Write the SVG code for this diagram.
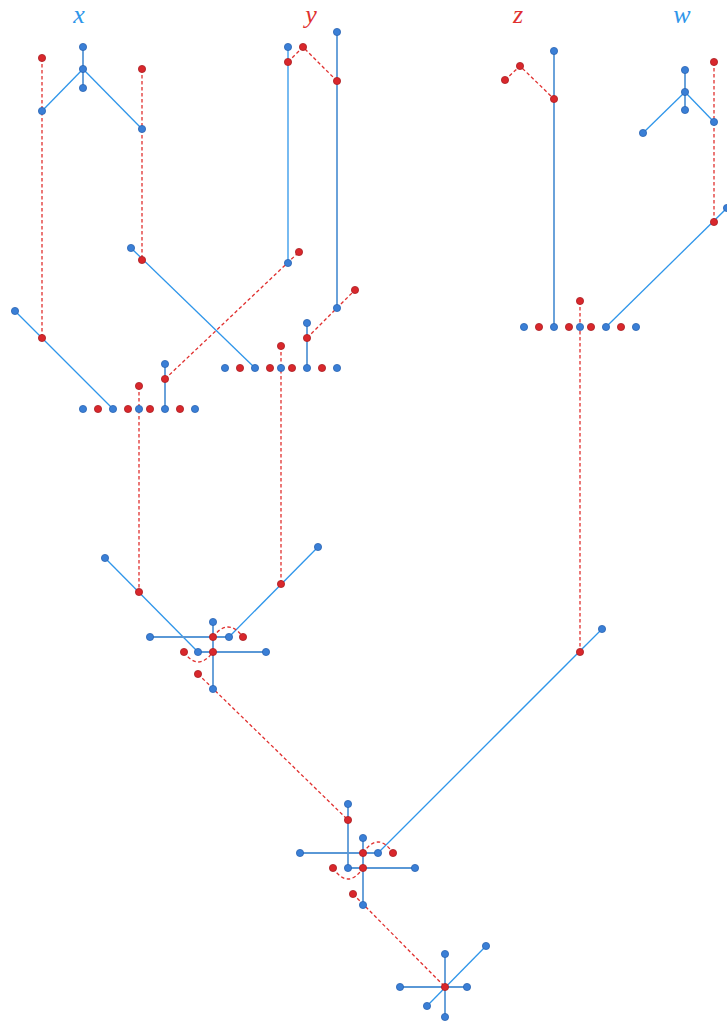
<svg xmlns="http://www.w3.org/2000/svg" width="727" height="1024" viewBox="0 0 727 1024">
<style>
.lb{font-family:"Liberation Serif","DejaVu Serif",serif;font-style:italic;font-size:26px;text-anchor:middle}
.lt{stroke:#2f96ea;stroke-width:1.3;fill:none}
.st{stroke:#5a98d6;stroke-width:1.8;fill:none}
.rd{stroke:#e0302f;stroke-width:1.3;stroke-dasharray:3.5,2.5;fill:none}
.b{fill:#3a7fd6;stroke:#2a63b3;stroke-width:0.8}
.r{fill:#d9272c;stroke:#aa1e22;stroke-width:0.8}
</style>
<rect width="727" height="1024" fill="#ffffff"/>
<g id="labels">
<text class="lb" x="79" y="23" fill="#2f96ea">x</text>
<text class="lb" x="311" y="23" fill="#e0302f">y</text>
<text class="lb" x="518" y="23" fill="#e0302f">z</text>
<text class="lb" x="682" y="23" fill="#2f96ea">w</text>
</g>
<g id="connectors">
<line class="st" x1="83" y1="47" x2="83" y2="88"/>
<line class="lt" x1="83" y1="69" x2="42" y2="111"/>
<line class="lt" x1="83" y1="69" x2="142" y2="129"/>
<line class="lt" x1="288" y1="47" x2="288" y2="263"/>
<line class="st" x1="337" y1="32" x2="337" y2="308"/>
<line class="st" x1="554" y1="51" x2="554" y2="327"/>
<line class="st" x1="685" y1="70" x2="685" y2="110"/>
<line class="lt" x1="685" y1="92" x2="643" y2="133"/>
<line class="lt" x1="685" y1="92" x2="714" y2="122"/>
<line class="lt" x1="15" y1="311" x2="113" y2="409"/>
<line class="lt" x1="131" y1="248" x2="255" y2="368"/>
<line class="st" x1="165" y1="364" x2="165" y2="409"/>
<line class="st" x1="307" y1="323" x2="307" y2="368"/>
<line class="lt" x1="728" y1="207" x2="606" y2="327"/>
<line class="lt" x1="105" y1="558" x2="198" y2="652"/>
<line class="lt" x1="318" y1="547" x2="229" y2="637"/>
<line class="st" x1="213" y1="622" x2="213" y2="689"/>
<line class="st" x1="150" y1="637" x2="229" y2="637"/>
<line class="st" x1="198" y1="652" x2="266" y2="652"/>
<line class="lt" x1="602" y1="629" x2="378" y2="853"/>
<line class="st" x1="348" y1="804" x2="348" y2="868"/>
<line class="st" x1="363" y1="838" x2="363" y2="905"/>
<line class="st" x1="300" y1="853" x2="378" y2="853"/>
<line class="st" x1="348" y1="868" x2="415" y2="868"/>
<line class="st" x1="445" y1="954" x2="445" y2="1017"/>
<line class="st" x1="400" y1="987" x2="467" y2="987"/>
<line class="lt" x1="486" y1="946" x2="427" y2="1006"/>
<line class="rd" x1="42" y1="58" x2="42" y2="338"/>
<line class="rd" x1="142" y1="69" x2="142" y2="260"/>
<polyline class="rd" points="288,62 303,47 337,81"/>
<polyline class="rd" points="505,80 520,66 554,99"/>
<line class="rd" x1="714" y1="62" x2="714" y2="222"/>
<line class="rd" x1="165" y1="379" x2="299" y2="252"/>
<line class="rd" x1="307" y1="338" x2="355" y2="290"/>
<line class="rd" x1="139" y1="386" x2="139" y2="592"/>
<line class="rd" x1="281" y1="346" x2="281" y2="584"/>
<line class="rd" x1="580" y1="301" x2="580" y2="652"/>
<path class="rd" d="M213,637 Q228,617 243,637"/>
<path class="rd" d="M184,652 Q198,672 213,652"/>
<line class="rd" x1="198" y1="674" x2="348" y2="820"/>
<path class="rd" d="M363,853 Q378,831 393,853"/>
<path class="rd" d="M333,868 Q348,890 363,868"/>
<line class="rd" x1="353" y1="894" x2="445" y2="987"/>
</g>
<g id="nodes">
<g id="b1"><circle class="b" cx="83" cy="47" r="3.6"/></g>
<g id="b2"><circle class="b" cx="83" cy="69" r="3.6"/></g>
<g id="b3"><circle class="b" cx="83" cy="88" r="3.6"/></g>
<g id="b4"><circle class="b" cx="42" cy="111" r="3.6"/></g>
<g id="b5"><circle class="b" cx="142" cy="129" r="3.6"/></g>
<g id="b6"><circle class="b" cx="288" cy="47" r="3.6"/></g>
<g id="b7"><circle class="b" cx="337" cy="32" r="3.6"/></g>
<g id="b8"><circle class="b" cx="554" cy="51" r="3.6"/></g>
<g id="b9"><circle class="b" cx="685" cy="70" r="3.6"/></g>
<g id="b10"><circle class="b" cx="685" cy="92" r="3.6"/></g>
<g id="b11"><circle class="b" cx="685" cy="110" r="3.6"/></g>
<g id="b12"><circle class="b" cx="643" cy="133" r="3.6"/></g>
<g id="b13"><circle class="b" cx="714" cy="122" r="3.6"/></g>
<g id="b14"><circle class="b" cx="15" cy="311" r="3.6"/></g>
<g id="b15"><circle class="b" cx="131" cy="248" r="3.6"/></g>
<g id="b16"><circle class="b" cx="288" cy="263" r="3.6"/></g>
<g id="b17"><circle class="b" cx="337" cy="308" r="3.6"/></g>
<g id="b18"><circle class="b" cx="307" cy="323" r="3.6"/></g>
<g id="b19"><circle class="b" cx="165" cy="364" r="3.6"/></g>
<g id="b20"><circle class="b" cx="727" cy="208" r="3.6"/></g>
<g id="b21"><circle class="b" cx="83" cy="409" r="3.6"/></g>
<g id="b22"><circle class="b" cx="113" cy="409" r="3.6"/></g>
<g id="b23"><circle class="b" cx="139" cy="409" r="3.6"/></g>
<g id="b24"><circle class="b" cx="165" cy="409" r="3.6"/></g>
<g id="b25"><circle class="b" cx="195" cy="409" r="3.6"/></g>
<g id="b26"><circle class="b" cx="225" cy="368" r="3.6"/></g>
<g id="b27"><circle class="b" cx="255" cy="368" r="3.6"/></g>
<g id="b28"><circle class="b" cx="281" cy="368" r="3.6"/></g>
<g id="b29"><circle class="b" cx="307" cy="368" r="3.6"/></g>
<g id="b30"><circle class="b" cx="337" cy="368" r="3.6"/></g>
<g id="b31"><circle class="b" cx="524" cy="327" r="3.6"/></g>
<g id="b32"><circle class="b" cx="554" cy="327" r="3.6"/></g>
<g id="b33"><circle class="b" cx="580" cy="327" r="3.6"/></g>
<g id="b34"><circle class="b" cx="606" cy="327" r="3.6"/></g>
<g id="b35"><circle class="b" cx="636" cy="327" r="3.6"/></g>
<g id="b36"><circle class="b" cx="105" cy="558" r="3.6"/></g>
<g id="b37"><circle class="b" cx="318" cy="547" r="3.6"/></g>
<g id="b38"><circle class="b" cx="213" cy="622" r="3.6"/></g>
<g id="b39"><circle class="b" cx="150" cy="637" r="3.6"/></g>
<g id="b40"><circle class="b" cx="229" cy="637" r="3.6"/></g>
<g id="b41"><circle class="b" cx="198" cy="652" r="3.6"/></g>
<g id="b42"><circle class="b" cx="266" cy="652" r="3.6"/></g>
<g id="b43"><circle class="b" cx="213" cy="689" r="3.6"/></g>
<g id="b44"><circle class="b" cx="602" cy="629" r="3.6"/></g>
<g id="b45"><circle class="b" cx="348" cy="804" r="3.6"/></g>
<g id="b46"><circle class="b" cx="363" cy="838" r="3.6"/></g>
<g id="b47"><circle class="b" cx="300" cy="853" r="3.6"/></g>
<g id="b48"><circle class="b" cx="378" cy="853" r="3.6"/></g>
<g id="b49"><circle class="b" cx="348" cy="868" r="3.6"/></g>
<g id="b50"><circle class="b" cx="415" cy="868" r="3.6"/></g>
<g id="b51"><circle class="b" cx="363" cy="905" r="3.6"/></g>
<g id="b52"><circle class="b" cx="445" cy="954" r="3.6"/></g>
<g id="b53"><circle class="b" cx="486" cy="946" r="3.6"/></g>
<g id="b54"><circle class="b" cx="400" cy="987" r="3.6"/></g>
<g id="b55"><circle class="b" cx="467" cy="987" r="3.6"/></g>
<g id="b56"><circle class="b" cx="427" cy="1006" r="3.6"/></g>
<g id="b57"><circle class="b" cx="445" cy="1017" r="3.6"/></g>
<g id="r1"><circle class="r" cx="42" cy="58" r="3.6"/></g>
<g id="r2"><circle class="r" cx="142" cy="69" r="3.6"/></g>
<g id="r3"><circle class="r" cx="288" cy="62" r="3.6"/></g>
<g id="r4"><circle class="r" cx="303" cy="47" r="3.6"/></g>
<g id="r5"><circle class="r" cx="337" cy="81" r="3.6"/></g>
<g id="r6"><circle class="r" cx="505" cy="80" r="3.6"/></g>
<g id="r7"><circle class="r" cx="520" cy="66" r="3.6"/></g>
<g id="r8"><circle class="r" cx="554" cy="99" r="3.6"/></g>
<g id="r9"><circle class="r" cx="714" cy="62" r="3.6"/></g>
<g id="r10"><circle class="r" cx="42" cy="338" r="3.6"/></g>
<g id="r11"><circle class="r" cx="142" cy="260" r="3.6"/></g>
<g id="r12"><circle class="r" cx="299" cy="252" r="3.6"/></g>
<g id="r13"><circle class="r" cx="355" cy="290" r="3.6"/></g>
<g id="r14"><circle class="r" cx="307" cy="338" r="3.6"/></g>
<g id="r15"><circle class="r" cx="165" cy="379" r="3.6"/></g>
<g id="r16"><circle class="r" cx="139" cy="386" r="3.6"/></g>
<g id="r17"><circle class="r" cx="281" cy="346" r="3.6"/></g>
<g id="r18"><circle class="r" cx="580" cy="301" r="3.6"/></g>
<g id="r19"><circle class="r" cx="714" cy="222" r="3.6"/></g>
<g id="r20"><circle class="r" cx="98" cy="409" r="3.6"/></g>
<g id="r21"><circle class="r" cx="128" cy="409" r="3.6"/></g>
<g id="r22"><circle class="r" cx="150" cy="409" r="3.6"/></g>
<g id="r23"><circle class="r" cx="180" cy="409" r="3.6"/></g>
<g id="r24"><circle class="r" cx="240" cy="368" r="3.6"/></g>
<g id="r25"><circle class="r" cx="270" cy="368" r="3.6"/></g>
<g id="r26"><circle class="r" cx="292" cy="368" r="3.6"/></g>
<g id="r27"><circle class="r" cx="322" cy="368" r="3.6"/></g>
<g id="r28"><circle class="r" cx="539" cy="327" r="3.6"/></g>
<g id="r29"><circle class="r" cx="569" cy="327" r="3.6"/></g>
<g id="r30"><circle class="r" cx="591" cy="327" r="3.6"/></g>
<g id="r31"><circle class="r" cx="621" cy="327" r="3.6"/></g>
<g id="r32"><circle class="r" cx="139" cy="592" r="3.6"/></g>
<g id="r33"><circle class="r" cx="281" cy="584" r="3.6"/></g>
<g id="r34"><circle class="r" cx="213" cy="637" r="3.6"/></g>
<g id="r35"><circle class="r" cx="243" cy="637" r="3.6"/></g>
<g id="r36"><circle class="r" cx="184" cy="652" r="3.6"/></g>
<g id="r37"><circle class="r" cx="213" cy="652" r="3.6"/></g>
<g id="r38"><circle class="r" cx="198" cy="674" r="3.6"/></g>
<g id="r39"><circle class="r" cx="580" cy="652" r="3.6"/></g>
<g id="r40"><circle class="r" cx="348" cy="820" r="3.6"/></g>
<g id="r41"><circle class="r" cx="363" cy="853" r="3.6"/></g>
<g id="r42"><circle class="r" cx="393" cy="853" r="3.6"/></g>
<g id="r43"><circle class="r" cx="333" cy="868" r="3.6"/></g>
<g id="r44"><circle class="r" cx="363" cy="868" r="3.6"/></g>
<g id="r45"><circle class="r" cx="353" cy="894" r="3.6"/></g>
<g id="r46"><circle class="r" cx="445" cy="987" r="3.6"/></g>
</g>
</svg>
